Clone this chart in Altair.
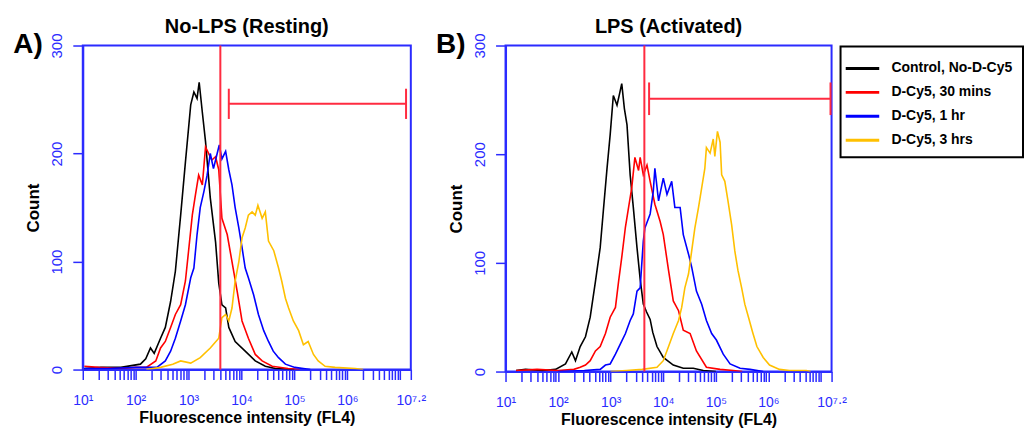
import altair as alt
import pandas as pd

# ---------------- data (log10 of FL4 intensity, event count) ----------------
SERIES = ["Control, No-D-Cy5", "D-Cy5, 30 mins", "D-Cy5, 1 hr", "D-Cy5, 3 hrs"]
COLORS = ["#000000", "#ff0000", "#0000ff", "#ffc000"]

# Panel A: No-LPS (Resting)
A_CTRL_LOG = [1.03, 1.34, 1.72, 2.09, 2.19, 2.28, 2.35, 2.47, 2.56, 2.66, 2.75, 2.85, 2.94, 3.04, 3.10, 3.16,
              3.20, 3.26, 3.32, 3.41, 3.51, 3.57, 3.63, 3.70, 3.76, 3.88, 4.07, 4.26, 4.45, 4.64, 5.00]
A_CTRL_CNT = [1, 2, 2, 5, 10, 20, 15, 29, 39, 63, 91, 143, 192, 245, 257, 251,
              266, 238, 211, 159, 118, 80, 60, 57, 39, 26, 17, 8, 3, 1, 0]
A_30M_LOG = [1.03, 1.30, 1.70, 2.00, 2.20, 2.38, 2.47, 2.56, 2.66, 2.75, 2.85, 2.94, 3.00, 3.07, 3.13, 3.19, 3.26,
             3.32, 3.38, 3.44, 3.51, 3.57, 3.63, 3.73, 3.82, 3.92, 4.01, 4.13, 4.26, 4.39, 4.58, 4.88, 5.10]
A_30M_CNT = [3, 2, 1, 2, 2, 8, 20, 26, 39, 51, 60, 82, 110, 143, 162, 180, 171,
             206, 200, 194, 197, 185, 140, 125, 100, 72, 45, 29, 14, 8, 3, 1, 0]
A_1H_LOG = [1.03, 1.50, 2.00, 2.40, 2.56, 2.66, 2.75, 2.85, 2.94, 3.04, 3.10, 3.16, 3.22, 3.29, 3.35, 3.41, 3.47,
            3.54, 3.58, 3.63, 3.70, 3.76, 3.82, 3.88, 3.95, 4.01, 4.07, 4.13, 4.23, 4.32, 4.42, 4.51, 4.60, 4.70,
            4.83, 5.01, 5.30]
A_1H_CNT = [1, 1, 2, 2, 8, 17, 29, 45, 60, 85, 94, 125, 150, 165, 180, 200, 186,
            200, 208, 195, 202, 185, 171, 150, 131, 113, 94, 85, 69, 51, 36, 26, 17, 11,
            5, 2, 0]
A_3H_LOG = [2.20, 2.47, 2.70, 2.85, 3.04, 3.22, 3.41, 3.57, 3.63, 3.70, 3.76, 3.82, 3.88, 3.95, 4.01, 4.07, 4.13,
            4.20, 4.26, 4.31, 4.39, 4.45, 4.51, 4.61, 4.70, 4.76, 4.83, 4.89, 4.98, 5.08, 5.17, 5.26, 5.36, 5.45,
            5.58, 5.77, 6.15, 6.30]
A_3H_CNT = [0, 2, 5, 8, 6, 11, 20, 29, 48, 51, 45, 57, 82, 100, 122, 131, 143,
            146, 143, 152, 140, 146, 119, 110, 94, 82, 66, 57, 45, 36, 23, 26, 14, 8,
            3, 2, 1, 0]

# Panel B: LPS (Activated)
B_CTRL_LOG = [1.20, 1.38, 1.70, 1.95, 2.14, 2.26, 2.33, 2.42, 2.52, 2.61, 2.71, 2.80, 2.86, 2.93, 2.99, 3.05,
              3.12, 3.17, 3.21, 3.26, 3.31, 3.37, 3.43, 3.50, 3.56, 3.62, 3.68, 3.75, 3.80, 3.88, 4.00, 4.19,
              4.38, 4.57, 4.76, 5.00]
B_CTRL_CNT = [1, 2, 1, 2, 7, 18, 10, 23, 32, 50, 83, 114, 148, 187, 218, 254,
              245, 256, 265, 242, 227, 181, 151, 114, 85, 62, 55, 48, 36, 23, 13, 6,
              3, 3, 1, 0]
B_30M_LOG = [1.20, 1.60, 2.00, 2.30, 2.42, 2.52, 2.61, 2.71, 2.80, 2.90, 2.99, 3.09, 3.15, 3.21, 3.28, 3.34,
             3.40, 3.46, 3.53, 3.56, 3.62, 3.69, 3.75, 3.84, 3.94, 4.00, 4.10, 4.19, 4.29, 4.38, 4.51, 4.63,
             4.82, 5.08, 5.33, 5.50]
B_30M_CNT = [1, 2, 1, 2, 4, 6, 10, 19, 23, 35, 50, 59, 83, 105, 133, 151,
             169, 197, 185, 197, 181, 190, 175, 154, 138, 126, 93, 65, 56, 38, 35, 19,
             4, 2, 1, 0]
B_1H_LOG = [2.00, 2.50, 2.80, 2.90, 2.99, 3.09, 3.18, 3.28, 3.37, 3.43, 3.50, 3.56, 3.62, 3.65, 3.75, 3.81,
            3.84, 3.91, 4.00, 4.07, 4.16, 4.22, 4.32, 4.38, 4.48, 4.54, 4.63, 4.73, 4.82, 4.92, 5.01, 5.14,
            5.27, 5.46, 5.65, 5.90]
B_1H_CNT = [0, 1, 2, 6, 7, 16, 25, 35, 47, 53, 74, 77, 120, 132, 145, 166,
            187, 157, 178, 163, 175, 151, 151, 126, 108, 96, 74, 62, 47, 35, 29, 16,
            7, 3, 2, 0]
B_3H_LOG = [3.00, 3.30, 3.60, 3.88, 4.00, 4.10, 4.19, 4.29, 4.35, 4.41, 4.48, 4.54, 4.60, 4.67, 4.73, 4.79,
            4.82, 4.89, 4.95, 4.98, 5.03, 5.08, 5.11, 5.17, 5.23, 5.30, 5.36, 5.42, 5.49, 5.55, 5.62, 5.70,
            5.78, 5.90, 6.02, 6.21, 6.40, 6.72, 6.80]
B_3H_CNT = [0, 1, 2, 4, 10, 23, 35, 47, 59, 77, 90, 111, 132, 151, 169, 187,
            206, 201, 214, 198, 221, 211, 181, 175, 157, 135, 111, 93, 77, 62, 50, 36,
            23, 13, 6, 2, 1, 1, 0]

# Gates (log10 positions, counts)
A_MARKER = 3.60
A_GATE = {"start": 3.76, "end": 7.11, "level": 246, "lo": 232, "hi": 260}
B_MARKER = 3.64
B_GATE = {"start": 3.73, "end": 7.18, "level": 251, "lo": 236, "hi": 266}

PANEL_TITLES = ["No-LPS (Resting)", "LPS (Activated)"]
PANEL_TAGS = ["A)", "B)"]
X_TITLE = "Fluorescence intensity (FL4)"
Y_TITLE = "Count"
Y_TICKS = [0, 100, 200, 300]

# ---------------- styling ----------------
BLUE = "#2b2bff"
GATE_RED = "#ff2b40"
FONT = "Liberation Sans"

X_TICKS = [k * 10 ** d for d in range(1, 7) for k in range(1, 10)] + [10 ** 7, 10 ** 7.2]
LABEL_EXPR = (
    "datum.value > 1.2e7 ? '10⁷·²' : "
    "(round(log(datum.value)/LN10) <= 6 && abs(log(datum.value)/LN10 - round(log(datum.value)/LN10)) < 1e-6"
    " ? '10' + ['⁰','¹','²','³','⁴','⁵','⁶'][round(log(datum.value)/LN10)] : '')"
)

x_scale = alt.Scale(type="log", domain=[10, 10 ** 7.2], nice=False)
y_scale = alt.Scale(domain=[0, 300], nice=False)

x_axis = alt.Axis(values=X_TICKS, labelExpr=LABEL_EXPR, tickSize=10, tickColor=BLUE, tickWidth=1.5,
                  domainColor=BLUE, domainWidth=2, labelColor=BLUE, labelFontSize=14, labelFont=FONT,
                  labelPadding=14, labelOverlap=False, labelFlush=False, grid=False,
                  titleFont=FONT, titleFontSize=16, titleFontWeight="bold", titleColor="black",
                  titlePadding=2)
y_axis = alt.Axis(values=Y_TICKS, labelAngle=270, labelAlign="center", labelBaseline="bottom",
                  labelColor=BLUE, labelFontSize=15, labelFont=FONT, labelPadding=8, tickSize=10,
                  tickColor=BLUE, tickWidth=1.5, domainColor=BLUE, domainWidth=2, grid=False,
                  titleFont=FONT, titleFontSize=17, titleFontWeight="bold", titleColor="black",
                  titlePadding=7)

legend = alt.Legend(title=None, orient="none", legendX=760, legendY=1,
                    symbolType="M-1.6,0L1.6,0", symbolSize=441, symbolStrokeWidth=3,
                    labelFont=FONT, labelFontSize=14, labelFontWeight="bold", labelColor="black",
                    labelOffset=17, rowPadding=5, padding=10, strokeColor="black", labelLimit=300)


def X(field):
    return alt.X(field, scale=x_scale, axis=x_axis, title=X_TITLE)


def Y(field):
    return alt.Y(field, scale=y_scale, axis=y_axis, title=Y_TITLE)


def curves_frame(pairs):
    rows = []
    for name, (logs, cnts) in zip(SERIES, pairs):
        assert len(logs) == len(cnts)
        for i, (lx, c) in enumerate(zip(logs, cnts)):
            rows.append({"series": name, "idx": i, "fl": 10 ** lx, "count": c})
    return pd.DataFrame(rows)


def panel(pairs, marker, gate, title, tag, width, height):
    df = curves_frame(pairs)
    lines = alt.Chart(df).mark_line(strokeWidth=1.6, clip=True).encode(
        x=X("fl:Q"), y=Y("count:Q"),
        color=alt.Color("series:N", scale=alt.Scale(domain=SERIES, range=COLORS), legend=legend),
        order="idx:Q", detail="series:N",
    )
    mk = alt.Chart(pd.DataFrame({"fl": [10 ** marker]})).mark_rule(color=GATE_RED, strokeWidth=2).encode(
        x=X("fl:Q"))
    bar = alt.Chart(pd.DataFrame({"fl": [10 ** gate["start"]], "fl2": [10 ** gate["end"]],
                                  "count": [gate["level"]]})).mark_rule(color=GATE_RED, strokeWidth=2).encode(
        x=X("fl:Q"), x2="fl2:Q", y=Y("count:Q"))
    caps = alt.Chart(pd.DataFrame({"fl": [10 ** gate["start"], 10 ** gate["end"]],
                                   "count": [gate["lo"], gate["lo"]],
                                   "count2": [gate["hi"], gate["hi"]]})).mark_rule(
        color=GATE_RED, strokeWidth=2).encode(x=X("fl:Q"), y=Y("count:Q"), y2="count2:Q")
    tag_txt = alt.Chart(pd.DataFrame({"tag": [tag]})).mark_text(
        font=FONT, fontSize=28, fontWeight="bold", color="black", align="center", baseline="alphabetic"
    ).encode(text="tag:N", x=alt.value(-55), y=alt.value(8))
    return alt.layer(lines, mk, bar, caps, tag_txt).properties(
        width=width, height=height,
        title=alt.TitleParams(text=title, font=FONT, fontSize=20, fontWeight="bold", color="black",
                              offset=-5, anchor="middle"),
    )


chart_a = panel([(A_CTRL_LOG, A_CTRL_CNT), (A_30M_LOG, A_30M_CNT), (A_1H_LOG, A_1H_CNT), (A_3H_LOG, A_3H_CNT)],
                A_MARKER, A_GATE, PANEL_TITLES[0], PANEL_TAGS[0], 329, 325)
chart_b = panel([(B_CTRL_LOG, B_CTRL_CNT), (B_30M_LOG, B_30M_CNT), (B_1H_LOG, B_1H_CNT), (B_3H_LOG, B_3H_CNT)],
                B_MARKER, B_GATE, PANEL_TITLES[1], PANEL_TAGS[1], 327, 327)

chart = alt.hconcat(chart_a, chart_b, spacing=8).properties(
    padding={"left": 4, "top": 7, "right": 0, "bottom": 0}
).configure_view(stroke=BLUE, strokeWidth=2).configure_legend(strokeWidth=2)

chart.save("out.html", embed_options={"renderer": "svg", "actions": False})
